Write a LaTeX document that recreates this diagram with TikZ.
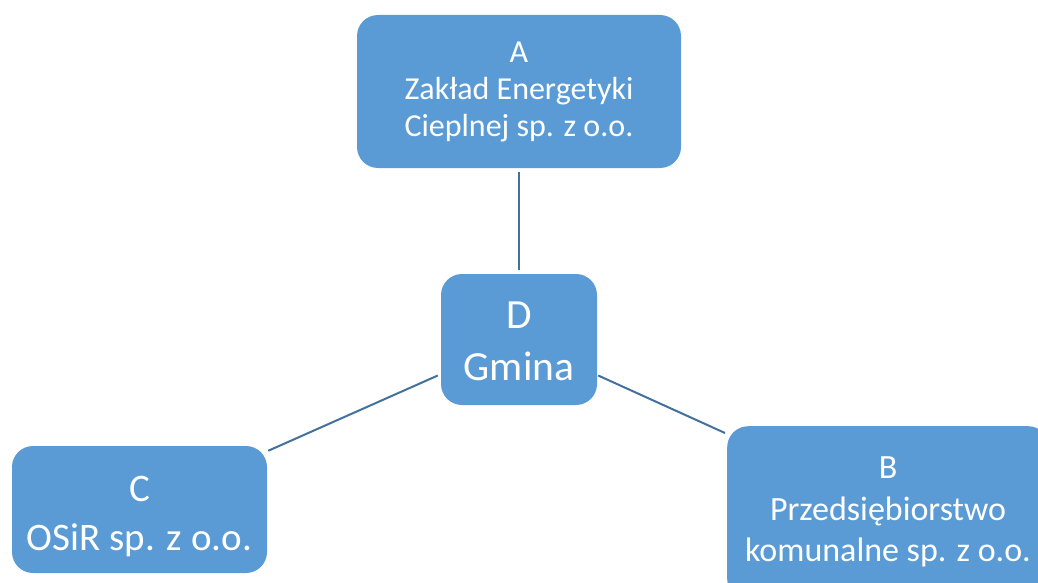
\documentclass[tikz,border=0pt]{standalone}
\usepackage{fontspec}
\setmainfont{Carlito}
\definecolor{boxfill}{HTML}{5B9BD5}
\definecolor{linec}{HTML}{41719C}
\begin{document}
\begin{tikzpicture}[x=1pt,y=-1pt,
  orgbox/.style={fill=boxfill,draw=none,rounded corners=21pt,inner sep=0pt},
  boxtext/.style={text=white,align=center,inner sep=0pt},
  conn/.style={draw=linec,line width=2pt}]
\useasboundingbox (0,0) rectangle (1038,583);
\clip (0,0) rectangle (1038,583);
\node[orgbox,minimum width=324pt,minimum height=153pt] (A) at (519,91.5) {};
\node[boxtext,font=\fontsize{32}{37}\selectfont] (At) at (519,91.5) {A\\Zakład Energetyki\\Cieplnej sp. z o.o.};
\node[orgbox,minimum width=156pt,minimum height=131pt] (D) at (519,339.5) {};
\node[boxtext,font=\fontsize{41.5}{52}\selectfont] (Dt) at (519,341) {D\\Gmina};
\node[orgbox,minimum width=255pt,minimum height=127pt] (C) at (139.5,509.5) {};
\node[boxtext,font=\fontsize{39}{49}\selectfont] (Ct) at (139.5,516) {C\\OSiR sp. z o.o.};
\node[orgbox,minimum width=322pt,minimum height=174pt,anchor=north west] (B) at (727,426) {};
\node[boxtext,font=\fontsize{34}{41.5}\selectfont,anchor=north] (Bt) at (888,456.5) {B\\Przedsiębiorstwo\\komunalne sp. z o.o.};
\coordinate (Aend) at ([yshift=-4pt]A.south);
\coordinate (Dtop) at ([yshift=4pt]D.north);
\coordinate (Dl) at ([shift={(-3pt,-36pt)}]D.west);
\coordinate (Dr) at ([shift={(1pt,-36pt)}]D.east);
\coordinate (Cc) at ([shift={(1pt,-5pt)}]C.north east);
\coordinate (Bc) at ([shift={(-2pt,-7pt)}]B.north west);
\draw[conn] (Aend) -- (Dtop);
\draw[conn] (Dl) -- (Cc);
\draw[conn] (Dr) -- (Bc);
\end{tikzpicture}
\end{document}
